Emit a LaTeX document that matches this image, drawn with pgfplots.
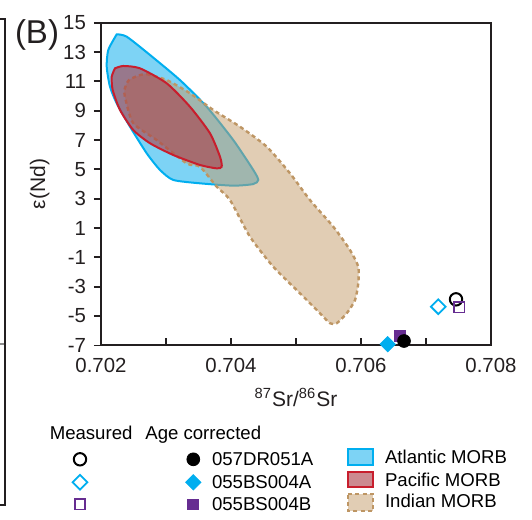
\documentclass[border=0pt]{standalone}
\usepackage{fontspec}
\setmainfont{Liberation Sans}
\usepackage{pgfplots}
\pgfplotsset{compat=1.18}
\definecolor{atlfill}{RGB}{125,211,245}
\definecolor{atlline}{RGB}{0,174,239}
\definecolor{pacfill}{RGB}{170,60,70}
\definecolor{pacline}{RGB}{200,30,45}
\definecolor{indfill}{RGB}{195,155,105}
\definecolor{indline}{RGB}{190,150,100}
\definecolor{purp}{RGB}{102,45,145}
\definecolor{axc}{RGB}{35,31,32}

\begin{document}
\begin{tikzpicture}
\path[use as bounding box] (0,0) rectangle (266pt,-260pt);

% main panel
\begin{axis}[
    at={(50.5pt,-172.7pt)}, anchor=south west,
    width=195pt, height=161.35pt, scale only axis,
    xmin=0.702, xmax=0.708, ymin=-7, ymax=15,
    xtick={0.702,0.704,0.706,0.708}, minor xtick={0.703,0.705,0.707},
    xticklabels={0.702,0.704,0.706,0.708},
    ytick={-7,-5,...,15},
    yticklabels={-7,-5,-3,-1,1,3,5,7,9,11,13,15},
    xtick pos=bottom, ytick pos=left,
    xtick align=inside, ytick align=outside,
    major tick length=3.5pt, minor tick length=3.5pt,
    every tick/.style={axc, line width=0.9pt},
    axis line style={axc, line width=1pt},
    tick label style={font=\fontsize{10.2}{12}\selectfont, axc},
    xticklabel style={yshift=-3pt},
    yticklabel style={xshift=-0.5pt},
    xlabel={\textsuperscript{87}Sr/\textsuperscript{86}Sr},
    ylabel={ε(Nd)},
    label style={font=\fontsize{10.5}{12}\selectfont, axc},
    xlabel style={yshift=-1pt},
    ylabel style={yshift=0pt},
    clip=false]

  % Atlantic MORB
  \addplot[smooth, tension=0.4, draw=atlline, line width=1pt, fill=atlfill]
    coordinates {
    (0.702242,14.21) (0.702112,13.14) (0.702088,12.00) (0.702138,10.64)
    (0.702242,9.50) (0.702446,7.91) (0.702703,6.10) (0.702908,4.96)
    (0.703112,4.28) (0.703523,4.05) (0.704035,3.89) (0.704343,4.00)
    (0.704420,4.28) (0.704343,4.96) (0.704035,7.00) (0.703626,9.27)
    (0.703215,11.09) (0.702754,12.80) (0.702395,14.05) (0.702242,14.21)
    } -- cycle;

  % Indian MORB
  \addplot[smooth, tension=0.4, draw=indline, line width=1.2pt,
    dash pattern=on 2pt off 1.6pt, fill=indfill, fill opacity=0.5]
    coordinates {
    (0.702703,11.50) (0.703011,11.09) (0.703369,10.19) (0.703728,9.05)
    (0.704138,7.91) (0.704549,6.55) (0.704908,4.73) (0.705215,2.91)
    (0.705574,1.09) (0.705831,-0.50) (0.705958,-1.64) (0.705958,-2.77)
    (0.705908,-3.91) (0.705780,-4.81) (0.705626,-5.49) (0.705523,-5.49)
    (0.705369,-4.81) (0.705062,-3.45) (0.704651,-1.64) (0.704292,0.41)
    (0.703985,2.91) (0.703780,3.82) (0.703523,5.18) (0.703318,5.41)
    (0.702857,7.00) (0.702497,8.14) (0.702380,9.73) (0.702360,10.41)
    (0.702430,11.09) (0.702600,11.43) (0.702703,11.50)
    } -- cycle;

  % Pacific MORB
  \addplot[smooth, tension=0.4, draw=pacline, line width=1pt,
    fill=pacfill, fill opacity=0.6]
    coordinates {
    (0.702215,11.89) (0.702343,12.05) (0.702600,11.89) (0.703011,10.87)
    (0.703369,9.27) (0.703677,7.46) (0.703831,5.86) (0.703857,5.18)
    (0.703780,5.07) (0.703523,5.30) (0.703112,5.98) (0.702754,6.78)
    (0.702497,7.68) (0.702292,9.05) (0.702180,10.41) (0.702165,11.32)
    (0.702215,11.89)
    } -- cycle;

  % measured
  \addplot[only marks, mark=o, mark size=3.1pt, mark options={black, line width=1pt}]
    coordinates {(0.707462,-3.86)};
  \addplot[only marks, mark=square, mark size=2.6pt,
    mark options={atlline, line width=0.9pt, rotate=45}]
    coordinates {(0.707189,-4.36)};
  \addplot[only marks, mark=square, mark size=2.6pt, mark options={purp, line width=0.8pt}]
    coordinates {(0.707513,-4.40)};
  % age corrected
  \addplot[only marks, mark=square*, mark size=2.8pt, mark options={purp}]
    coordinates {(0.706600,-6.36)};
  \addplot[only marks, mark=*, mark size=3.2pt, mark options={black}]
    coordinates {(0.706662,-6.70)};
  \addplot[only marks, mark=square*, mark size=2.7pt, mark options={atlline, rotate=45}]
    coordinates {(0.706411,-6.92)};
\end{axis}

% overlay in pixel units: panel letter, legend, edge of panel (A)
\begin{axis}[
    at={(0pt,0pt)}, anchor=north west,
    width=266pt, height=260pt, scale only axis,
    xmin=0, xmax=532, ymin=0, ymax=520, y dir=reverse,
    hide axis, clip=false]
  \draw[axc, line width=1pt] (axis cs:0,19) -- (axis cs:5,19) -- (axis cs:5,505) -- (axis cs:0,505);
  \draw[black!45, line width=0.6pt] (axis cs:0,344) -- (axis cs:4,344);

  \node[font=\fontsize{16.5}{20}\selectfont, axc, anchor=base] at (axis cs:37,43.5) {(B)};

  \node[font=\fontsize{9.3}{11}\selectfont, anchor=base west] at (axis cs:42.7,439.3) {Measured};
  \node[font=\fontsize{9.3}{11}\selectfont, anchor=base west] at (axis cs:138.3,439.3) {Age corrected};

  \addplot[only marks, mark=o, mark size=3.1pt, mark options={black, line width=1pt}]
    coordinates {(80,459.3)};
  \addplot[only marks, mark=square, mark size=2.6pt,
    mark options={atlline, line width=0.9pt, rotate=45}]
    coordinates {(80,482.3)};
  \addplot[only marks, mark=square, mark size=2.6pt, mark options={purp, line width=0.8pt}]
    coordinates {(80,504.3)};
  \addplot[only marks, mark=*, mark size=3.2pt, mark options={black}]
    coordinates {(193.3,459.3)};
  \addplot[only marks, mark=square*, mark size=2.7pt, mark options={atlline, rotate=45}]
    coordinates {(193.3,482.3)};
  \addplot[only marks, mark=square*, mark size=2.7pt, mark options={purp}]
    coordinates {(193.3,504.3)};

  \node[font=\fontsize{9.3}{11}\selectfont, anchor=base west] at (axis cs:205,465.5) {057DR051A};
  \node[font=\fontsize{9.3}{11}\selectfont, anchor=base west] at (axis cs:205,488.5) {055BS004A};
  \node[font=\fontsize{9.3}{11}\selectfont, anchor=base west] at (axis cs:205,510.5) {055BS004B};

  \addplot[draw=atlline, line width=1.1pt, fill=atlfill]
    coordinates {(348.3,449.3) (373.3,449.3) (373.3,465) (348.3,465)} -- cycle;
  \addplot[draw=pacline, line width=1.1pt, fill=pacfill, fill opacity=0.6]
    coordinates {(348.3,471.7) (373.3,471.7) (373.3,487.3) (348.3,487.3)} -- cycle;
  \addplot[draw=indline, line width=1.1pt, dash pattern=on 2pt off 1.6pt,
    fill=indfill, fill opacity=0.5]
    coordinates {(348.3,494.3) (373.3,494.3) (373.3,511) (348.3,511)} -- cycle;

  \node[font=\fontsize{9.3}{11}\selectfont, anchor=base west] at (axis cs:378,463.3) {Atlantic MORB};
  \node[font=\fontsize{9.3}{11}\selectfont, anchor=base west] at (axis cs:378,486) {Pacific MORB};
  \node[font=\fontsize{9.3}{11}\selectfont, anchor=base west] at (axis cs:378,507.7) {Indian MORB};
\end{axis}
\end{tikzpicture}
\end{document}
